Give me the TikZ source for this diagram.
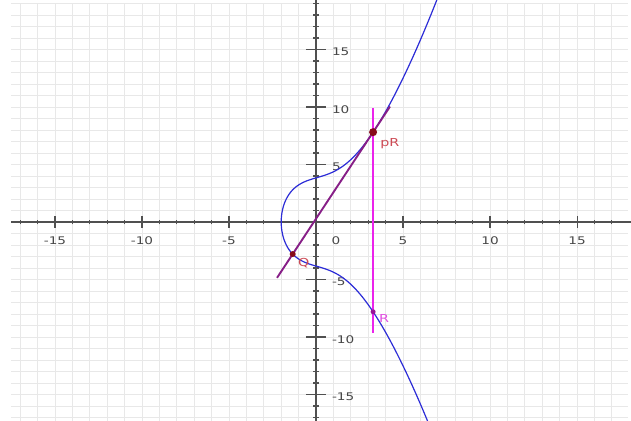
\documentclass[tikz,border=0pt]{standalone}
\usepackage{fontspec}
\newfontfamily\plotfont[FakeStretch=1.3]{DejaVu Sans}
\usetikzlibrary{positioning,calc}

\definecolor{gridgray}{RGB}{232,232,232}
\definecolor{axisgray}{RGB}{80,80,80}
\definecolor{labgray}{RGB}{70,70,70}
\definecolor{curveblue}{RGB}{45,45,215}
\definecolor{chordpurple}{RGB}{135,30,135}
\definecolor{vertmag}{RGB}{235,35,235}
\definecolor{ptred}{RGB}{135,10,25}
\definecolor{ptmag}{RGB}{150,20,150}
\definecolor{labred}{RGB}{205,75,85}
\definecolor{labmag}{RGB}{225,80,225}

\begin{document}
\begin{tikzpicture}[x=17.4pt, y=11.5pt,
  gridline/.style={gridgray, line width=0.8pt},
  axisline/.style={axisgray, line width=1.3pt},
  tickmark/.style={axisgray, line width=1.1pt},
  ticklab/.style={font=\plotfont\fontsize{10.5}{11}\selectfont,
    text=labgray, inner sep=1pt},
  curve/.style={curveblue, line width=1.2pt},
  chord/.style={chordpurple, line width=1.9pt},
  vline/.style={vertmag, line width=1.9pt},
  ptdot/.style={circle, inner sep=0pt, minimum size=#1},
  ptlab/.style={font=\plotfont\fontsize{11}{12}\selectfont, inner sep=0pt},
]

% frame of the shot
\fill[white] (-18.16,-17.3) rectangle (18.1,19.3);
\useasboundingbox (-18.16,-17.3) rectangle (18.1,19.3);
\clip (-18.16,-17.3) rectangle (18.1,19.3);

% grid
\draw[gridline] (-17.5,-17.3) grid[step=1] (17.9,19.0);

% axes
\draw[axisline] (-17.5,0) -- (18.1,0);
\draw[axisline] (0,-17.3) -- (0,19.3);
\foreach \v in {-17,...,17}
  \draw[tickmark] (\v,-0.2) -- (\v,0.2);
\foreach \v in {-17,...,19}
  \draw[tickmark] (-0.15,\v) -- (0.15,\v);
\foreach \v in {-15,-10,-5,5,10,15} {
  \draw[tickmark] (\v,-0.5) -- (\v,0.5);
  \draw[tickmark] (-0.58,\v) -- (0.58,\v);
}

% tick labels
\foreach \v in {-15,-10,-5,5,10,15}
  \node[ticklab] (xl\v) at (\v,-1.6) {\v};
\node[ticklab] (xl0) at (1.15,-1.6) {0};
\foreach \v in {-15,-10,-5,5,10,15}
  \node[ticklab, anchor=west] (yl\v) at (0.85,\v-0.2) {\v};

% curve y^2 = x^3 + 3.35x + 14.7
\draw[curve] plot[domain=-3.0:3.0, samples=241, smooth, variable=\t]
  ({-2+\t*\t},{\t*sqrt((\t*\t-2)^2-2*(\t*\t-2)+7.35)});

% chord through Q and pR, and the vertical line
\coordinate (q) at (-1.34,-2.79);
\coordinate (pr) at (3.28,7.81);
\coordinate (r) at (3.28,-7.81);
\coordinate (chordlo) at ($(q)!-0.195!(pr)$);
\coordinate (chordhi) at ($(pr)!-0.21!(q)$);
\coordinate (vtop) at (3.28,9.9);
\coordinate (vbot) at (3.28,-9.65);
\draw[chord] (chordlo) -- (chordhi);
\draw[vline] (vtop) -- (vbot);

% points
\node[ptdot=8pt, fill=ptred] (PR) at (pr) {};
\node[ptdot=6pt, fill=ptred] (Q) at (q) {};
\node[ptdot=5pt, fill=ptmag] (R) at (r) {};

% labels
\node[ptlab, text=labred, below right=3pt and 4pt of PR] (PRlab) {pR};
\node[ptlab, text=labred, below right=2pt and 3pt of Q] (Qlab) {Q};
\node[ptlab, text=labmag, below right=1pt and 4pt of R] (Rlab) {R};

\end{tikzpicture}
\end{document}
